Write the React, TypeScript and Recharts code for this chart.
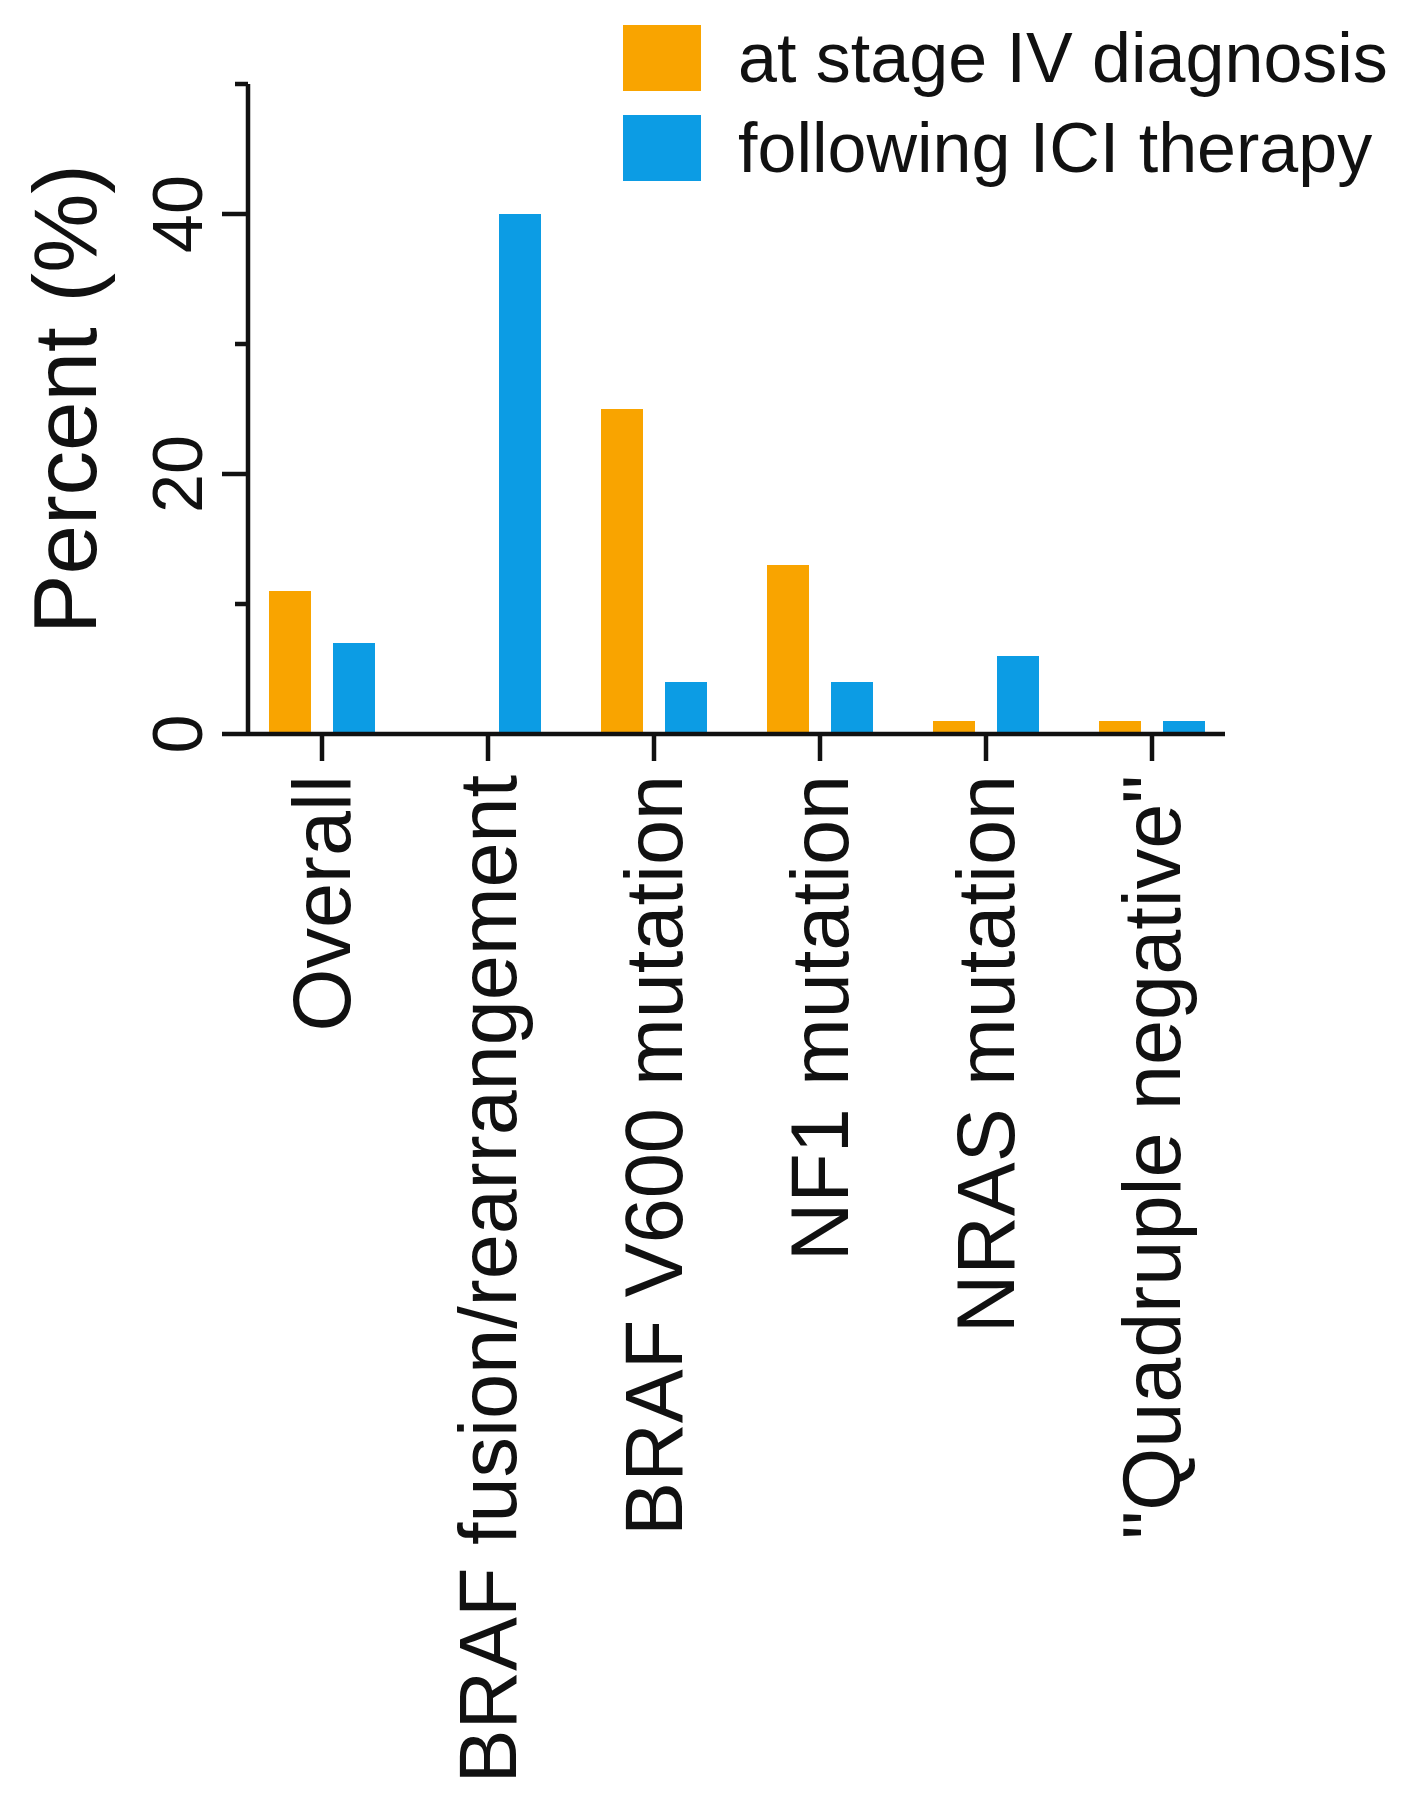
import React from 'react';
import { BarChart, Bar, XAxis, YAxis, Legend } from 'recharts';

const FONT = '"Liberation Sans", Arial, sans-serif';
const INK = '#111';

// values (percent)
const categories = [
  'Overall',
  'BRAF fusion/rearrangement',
  'BRAF V600 mutation',
  'NF1 mutation',
  'NRAS mutation',
  '"Quadruple negative"',
];
const atStageIV = [11, 0, 25, 13, 1, 1];
const followingICI = [7, 40, 4, 4, 6, 1];
const yTicks = [0, 10, 20, 30, 40, 50];
const yTickLabels = [0, 20, 40];

const data = categories.map((name, i) => ({
  name,
  stage: atStageIV[i],
  ici: followingICI[i],
}));

const Y_TICK = 26;
const Y_MARGIN = 20;
const AXIS_W = 4.5;

const CategoryTick = ({ x, y, payload }: any) => (
  <text
    x={x}
    y={y}
    transform={`rotate(-90 ${x} ${y})`}
    textAnchor="end"
    dominantBaseline="central"
    fontSize={81}
    fontFamily={FONT}
    fill={INK}
  >
    {payload.value}
  </text>
);

// labelled ticks are long, the others short
const ValueTick = ({ x, y, payload }: any) => {
  const axisX = x + Y_MARGIN + Y_TICK;
  const labelled = yTickLabels.includes(payload.value);
  const len = labelled ? Y_TICK : 13;
  return (
    <g>
      <line x1={axisX - len} x2={axisX} y1={y} y2={y} stroke={INK} strokeWidth={AXIS_W} />
      {labelled && (
        <text
          x={x}
          y={y}
          transform={`rotate(-90 ${x} ${y})`}
          textAnchor="middle"
          fontSize={70}
          fontFamily={FONT}
          fill={INK}
        >
          {payload.value}
        </text>
      )}
    </g>
  );
};

const LegendBox = ({ payload }: any) => (
  <div style={{ fontFamily: FONT }}>
    {(payload || []).map((entry: any) => (
      <div
        key={entry.value}
        style={{ display: 'flex', alignItems: 'center', height: 66, marginBottom: 24 }}
      >
        <div style={{ width: 78, height: 66, background: entry.color, marginRight: 37 }} />
        <span style={{ fontSize: 70, color: INK, whiteSpace: 'nowrap', lineHeight: 1 }}>
          {entry.value}
        </span>
      </div>
    ))}
  </div>
);

export default function App() {
  return (
    <div
      style={{
        position: 'absolute',
        left: 0,
        top: 0,
        width: 1404,
        height: 1810,
        background: '#fff',
        fontFamily: FONT,
      }}
    >
      <BarChart
        width={1404}
        height={1810}
        data={data}
        margin={{ top: 84, right: 179, bottom: 76, left: 48 }}
        barGap={22}
        barSize={42}
      >
        <XAxis
          dataKey="name"
          interval={0}
          height={1000}
          tickSize={27}
          tickMargin={14}
          padding={{ left: -9, right: -10 }}
          axisLine={{ stroke: INK, strokeWidth: AXIS_W }}
          tickLine={{ stroke: INK, strokeWidth: AXIS_W }}
          tick={<CategoryTick />}
        />
        <YAxis
          domain={[0, 50]}
          ticks={yTicks}
          interval={0}
          width={200}
          tickSize={Y_TICK}
          tickMargin={Y_MARGIN}
          axisLine={{ stroke: INK, strokeWidth: AXIS_W }}
          tickLine={{ stroke: 'transparent' }}
          tick={<ValueTick />}
          label={{
            value: 'Percent (%)',
            angle: -90,
            position: 'insideLeft',
            offset: 16,
            dy: -10,
            style: { textAnchor: 'middle', fontSize: 89, fill: INK, fontFamily: FONT },
          }}
        />
        <Legend
          layout="horizontal"
          verticalAlign="middle"
          align="center"
          wrapperStyle={{ top: 25, left: 623, width: 780 }}
          content={<LegendBox />}
        />
        <Bar dataKey="stage" name="at stage IV diagnosis" fill="#F9A400" isAnimationActive={false} />
        <Bar dataKey="ici" name="following ICI therapy" fill="#0C9CE4" isAnimationActive={false} />
      </BarChart>
    </div>
  );
}
